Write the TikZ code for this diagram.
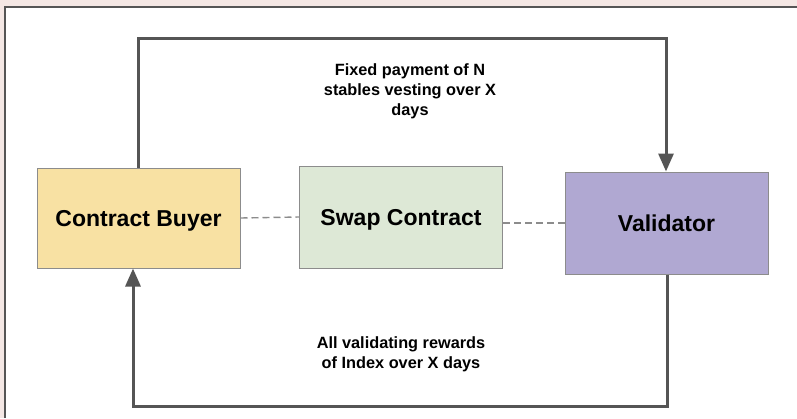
\documentclass[tikz,border=0pt]{standalone}
\usepackage{fontspec}
\setmainfont{Liberation Sans}
\usetikzlibrary{arrows.meta}

\definecolor{buyerfill}{HTML}{F8E1A3}
\definecolor{swapfill}{HTML}{DDE8D6}
\definecolor{valfill}{HTML}{B0A8D2}
\definecolor{boxline}{HTML}{8C8C8C}
\definecolor{flowline}{HTML}{555555}
\definecolor{edgetint}{HTML}{F4E7E4}

\begin{document}
\begin{tikzpicture}[x=1pt,y=-1pt,
	party/.style={draw=boxline,line width=1pt,minimum width=203pt,minimum height=100pt,
		inner sep=0pt,text depth=0pt,font=\fontsize{23}{26}\selectfont\bfseries},
	flow/.style={draw=flowline,line width=3pt,-{Triangle[length=18pt,width=15pt]}},
	link/.style={draw=boxline,line width=1.4pt,dash pattern=on 7pt off 4pt},
	note/.style={align=center,font=\fontsize{16.3}{20}\selectfont\bfseries}]
	\useasboundingbox (0,0) rectangle (797,418);
	% screenshot edge
	\fill[edgetint] (0,0) rectangle (797,7);
	\fill[edgetint] (0,0) rectangle (5,418);
	\draw[flowline,line width=2pt] (5,418) -- (5,7) -- (797,7);

	\node[party,fill=buyerfill] (buyer) at (138.5,218) {Contract Buyer};
	\node[party,fill=swapfill,minimum height=102pt] (swap) at (401,217) {Swap Contract};
	\node[party,fill=valfill,minimum height=102pt] (val) at (666.5,223) {Validator};

	\draw[link] (buyer.east) -- (swap.west);
	\draw[link] (swap.east |- val.west) -- (val.west);

	\coordinate (tl) at (138,38);
	\coordinate (tr) at (666,38);
	\coordinate (br) at (667,406);
	\coordinate (bl) at (133,406);
	\draw[flow] (buyer.north -| tl) -- (tl) -- (tr) -- (val.north -| tr);
	\draw[flow] (val.south -| br) -- (br) -- (bl) -- (buyer.south -| bl);

	\node[note] (pay) at (410,91) {Fixed payment of N\\stables vesting over X\\days};
	\node[note] (rew) at (401,354) {All validating rewards\\of Index over X days};
\end{tikzpicture}
\end{document}
